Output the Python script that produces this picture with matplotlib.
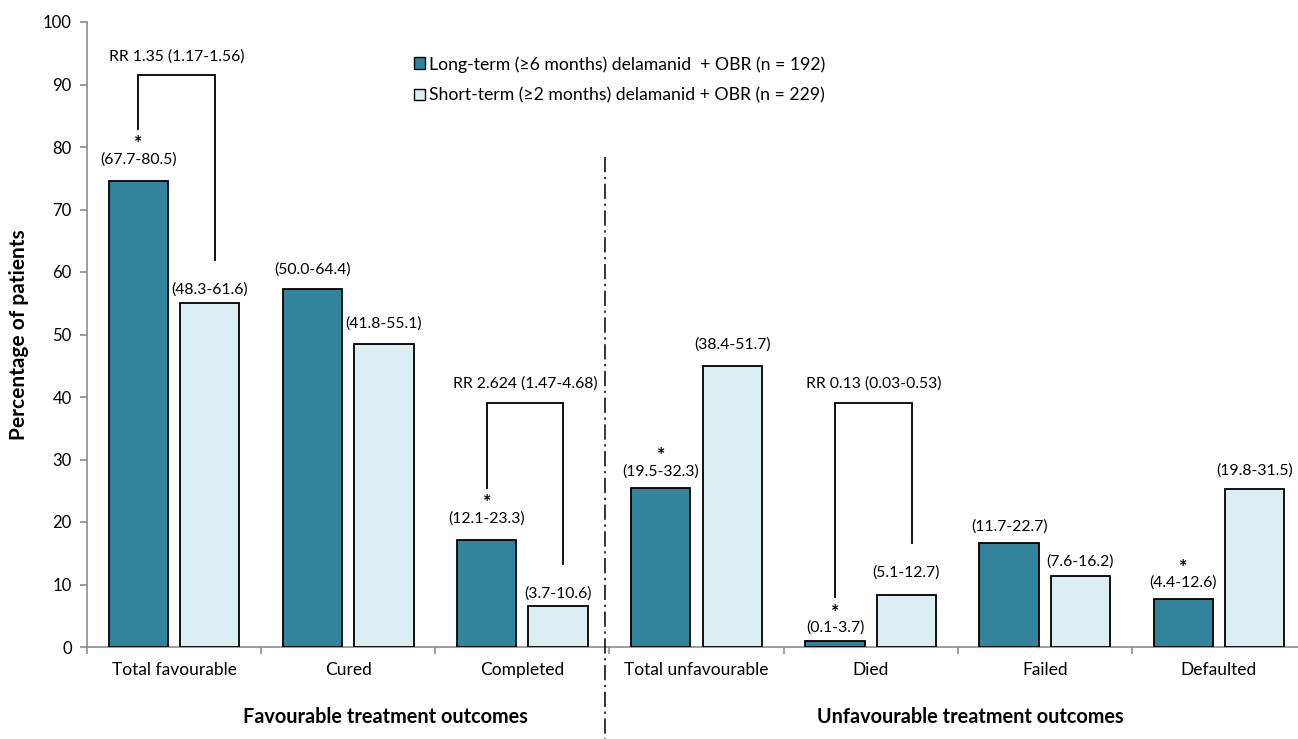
import matplotlib
matplotlib.use("Agg")
import matplotlib.pyplot as plt
from matplotlib.patches import Patch
import numpy as np

plt.rcParams['font.family'] = ['Lato', 'DejaVu Sans']

# ---- data ----
categories = ['Total favourable', 'Cured', 'Completed', 'Total unfavourable',
              'Died', 'Failed', 'Defaulted']
long_term = [74.5, 57.3, 17.1, 25.5, 1.0, 16.7, 7.7]
short_term = [55.0, 48.5, 6.6, 45.0, 8.3, 11.4, 25.3]
long_ci = ['(67.7-80.5)', '(50.0-64.4)', '(12.1-23.3)', '(19.5-32.3)',
           '(0.1-3.7)', '(11.7-22.7)', '(4.4-12.6)']
short_ci = ['(48.3-61.6)', '(41.8-55.1)', '(3.7-10.6)', '(38.4-51.7)',
            '(5.1-12.7)', '(7.6-16.2)', '(19.8-31.5)']
significant = [True, False, True, True, True, False, True]
rr_index = [0, 2, 4]
rr_text = ['RR 1.35 (1.17-1.56)', 'RR 2.624 (1.47-4.68)', 'RR 0.13 (0.03-0.53)']
group_names = ['Favourable treatment outcomes', 'Unfavourable treatment outcomes']
series_names = ['Long-term (\u22656 months) delamanid  + OBR (n = 192)',
                'Short-term (\u22652 months) delamanid + OBR (n = 229)']

# ---- layout ----
dark = '#31849b'
light = '#daeef3'
axis_grey = '#8c8c8c'
W, H, DPI = 1298, 739, 100
bar_w = 0.34
shift = 0.205
# label offsets above bar tops (pixels)
long_off_px = [22, 19, 22, 16, 13, 16, 16]
short_off_px = [14, 20, 12, 21, 23, 14, 18]
bracket_top = [91.5, 39.1, 39.1]

fig = plt.figure(figsize=(W / DPI, H / DPI), dpi=DPI)
ax = fig.add_axes([87 / W, (H - 647) / H, (1306 - 87) / W, (647 - 22) / H])

x = np.arange(len(categories))
b1 = ax.bar(x - shift, long_term, bar_w, color=dark, edgecolor='black',
            linewidth=1.3, label=series_names[0], zorder=3)
b2 = ax.bar(x + shift, short_term, bar_w, color=light, edgecolor='black',
            linewidth=1.3, label=series_names[1], zorder=3)

ax.set_xlim(-0.5, len(categories) - 0.5)
ax.set_ylim(0, 100)
ax.set_yticks(np.arange(0, 101, 10))
px_per_unit = (647 - 22) / 100.0

for s in ['top', 'right']:
    ax.spines[s].set_visible(False)
for s in ['left', 'bottom']:
    ax.spines[s].set_color(axis_grey)
    ax.spines[s].set_linewidth(1.2)

ax.tick_params(axis='y', direction='out', length=5, width=1.2, color=axis_grey,
               labelsize=12, pad=6, labelcolor='black')
ax.set_xticks(x)
ax.set_xticklabels(categories)
ax.set_xticks(np.arange(-0.5, len(categories), 1.0), minor=True)
ax.tick_params(axis='x', which='major', length=0, labelsize=12.5, pad=11)
ax.tick_params(axis='x', which='minor', direction='out', length=5, width=1.2,
               color=axis_grey)

ax.set_ylabel('Percentage of patients', fontsize=15, fontweight='bold', labelpad=10)

# value range labels and significance markers
label_fs = 11.3
long_label_y = []
short_label_y = []
for i in range(len(categories)):
    yl = long_term[i] + long_off_px[i] / px_per_unit
    ys = short_term[i] + short_off_px[i] / px_per_unit
    long_label_y.append(yl)
    short_label_y.append(ys)
    ax.text(x[i] - shift, yl, long_ci[i], ha='center', va='center', fontsize=label_fs)
    ax.text(x[i] + shift, ys, short_ci[i], ha='center', va='center', fontsize=label_fs)
    if significant[i]:
        ax.text(x[i] - shift, yl + 2.5, '*', ha='center', va='center',
                fontsize=14, fontweight='bold')

# risk-ratio brackets
for k, i in enumerate(rr_index):
    xl = x[i] - shift
    xr = x[i] + shift + 0.03
    yl = long_label_y[i] + 2.4 + 2.5
    yr = short_label_y[i] + 4.7
    top = bracket_top[k]
    ax.plot([xl, xl, xr, xr], [yl, top, top, yr], color='black', lw=1.3,
            solid_joinstyle='miter', zorder=4)
    ax.text((xl + xr) / 2, top + 3.0, rr_text[k], ha='center', va='center',
            fontsize=label_fs)

# divider between outcome groups
div_x = 2.5 - 4 / 174.0
ax.plot([div_x, div_x], [(647 - 157) / px_per_unit, -92 / px_per_unit], color='black',
        lw=1.1, ls=(0, (10, 3, 1.5, 3)), clip_on=False, zorder=5)

# group titles
ax.text((385 - 87) / 174.1 - 0.5, -(717 - 647) / px_per_unit, group_names[0],
        ha='center', va='center', fontsize=14.3, fontweight='bold')
ax.text((970 - 87) / 174.1 - 0.5, -(717 - 647) / px_per_unit, group_names[1],
        ha='center', va='center', fontsize=14.3, fontweight='bold')

# legend
handles = [Patch(facecolor=dark, edgecolor='black', linewidth=1.0),
           Patch(facecolor=light, edgecolor='black', linewidth=1.0)]
fig.legend(handles, series_names, loc='upper left',
           bbox_to_anchor=(414 / W, 1 - 56 / H), frameon=False, fontsize=12.7,
           handlelength=0.65, handleheight=0.65, handletextpad=0.2,
           labelspacing=0.85, borderaxespad=0, borderpad=0)

fig.savefig('out.png', dpi=DPI)
